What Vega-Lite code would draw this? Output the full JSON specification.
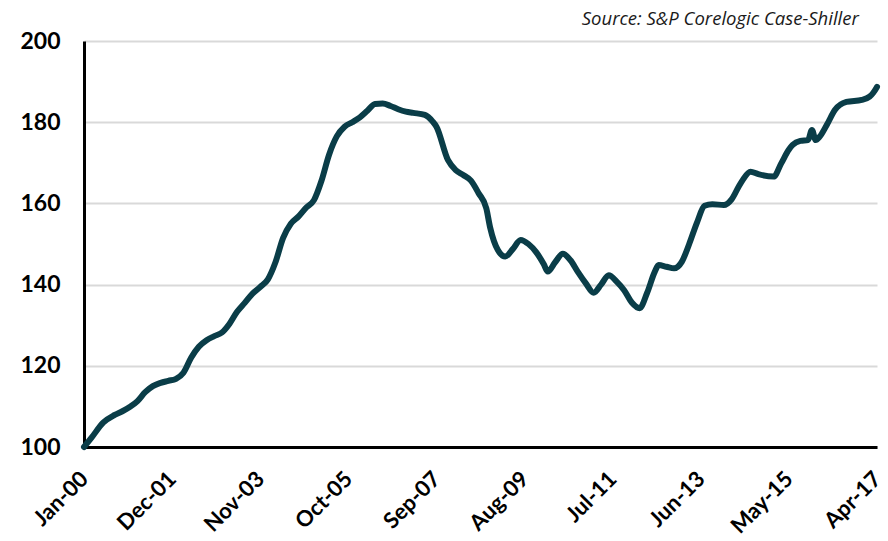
{
  "$schema": "https://vega.github.io/schema/vega-lite/v6.json",
  "width": 793,
  "height": 406,
  "autosize": "none",
  "padding": {"left": 84, "top": 41, "right": 11, "bottom": 94},
  "background": "white",
  "title": {
    "text": "Source:  S&P Corelogic Case-Shiller",
    "anchor": "end",
    "font": "Open Sans",
    "fontSize": 18.5,
    "fontStyle": "italic",
    "fontWeight": "normal",
    "color": "#1a1a1a",
    "dx": -26,
    "offset": 2
  },
  "data": {
    "values": [
      {"date": "2000-01-01", "index": 100.0},
      {"date": "2000-03-01", "index": 102.3},
      {"date": "2000-06-01", "index": 106.0},
      {"date": "2000-09-01", "index": 107.9},
      {"date": "2000-11-01", "index": 108.8},
      {"date": "2001-01-01", "index": 109.9},
      {"date": "2001-03-01", "index": 111.3},
      {"date": "2001-05-01", "index": 113.5},
      {"date": "2001-07-01", "index": 115.0},
      {"date": "2001-09-01", "index": 115.8},
      {"date": "2001-11-01", "index": 116.3},
      {"date": "2002-01-01", "index": 116.8},
      {"date": "2002-03-01", "index": 118.3},
      {"date": "2002-05-01", "index": 122.0},
      {"date": "2002-07-01", "index": 124.7},
      {"date": "2002-09-01", "index": 126.3},
      {"date": "2002-11-01", "index": 127.3},
      {"date": "2003-01-01", "index": 128.2},
      {"date": "2003-03-01", "index": 130.3},
      {"date": "2003-05-01", "index": 133.3},
      {"date": "2003-07-01", "index": 135.5},
      {"date": "2003-09-01", "index": 137.8},
      {"date": "2003-11-01", "index": 139.4},
      {"date": "2004-01-01", "index": 141.3},
      {"date": "2004-03-01", "index": 145.5},
      {"date": "2004-05-01", "index": 151.5},
      {"date": "2004-07-01", "index": 155.0},
      {"date": "2004-09-01", "index": 156.8},
      {"date": "2004-11-01", "index": 159.0},
      {"date": "2005-01-01", "index": 160.8},
      {"date": "2005-03-01", "index": 165.5},
      {"date": "2005-05-01", "index": 172.0},
      {"date": "2005-07-01", "index": 176.5},
      {"date": "2005-09-01", "index": 178.9},
      {"date": "2005-11-01", "index": 180.0},
      {"date": "2006-01-01", "index": 181.2},
      {"date": "2006-03-01", "index": 182.8},
      {"date": "2006-05-01", "index": 184.5},
      {"date": "2006-07-01", "index": 184.6},
      {"date": "2006-09-01", "index": 184.0},
      {"date": "2006-11-01", "index": 183.2},
      {"date": "2007-01-01", "index": 182.6},
      {"date": "2007-03-01", "index": 182.3},
      {"date": "2007-06-01", "index": 181.8},
      {"date": "2007-08-01", "index": 180.2},
      {"date": "2007-09-01", "index": 178.9},
      {"date": "2007-12-01", "index": 170.7},
      {"date": "2008-02-01", "index": 168.2},
      {"date": "2008-04-01", "index": 167.0},
      {"date": "2008-06-01", "index": 165.6},
      {"date": "2008-08-01", "index": 162.5},
      {"date": "2008-10-01", "index": 158.8},
      {"date": "2008-11-01", "index": 154.0},
      {"date": "2009-01-01", "index": 148.5},
      {"date": "2009-03-01", "index": 146.9},
      {"date": "2009-05-01", "index": 148.8},
      {"date": "2009-07-01", "index": 151.0},
      {"date": "2009-09-01", "index": 150.0},
      {"date": "2009-11-01", "index": 148.0},
      {"date": "2010-01-01", "index": 145.0},
      {"date": "2010-02-01", "index": 143.2},
      {"date": "2010-04-01", "index": 145.5},
      {"date": "2010-06-01", "index": 147.6},
      {"date": "2010-08-01", "index": 146.0},
      {"date": "2010-10-01", "index": 143.0},
      {"date": "2010-12-01", "index": 140.3},
      {"date": "2011-02-01", "index": 138.0},
      {"date": "2011-04-01", "index": 140.0},
      {"date": "2011-06-01", "index": 142.3},
      {"date": "2011-08-01", "index": 140.8},
      {"date": "2011-10-01", "index": 138.6},
      {"date": "2011-12-01", "index": 135.6},
      {"date": "2012-02-01", "index": 134.2},
      {"date": "2012-04-01", "index": 138.0},
      {"date": "2012-06-01", "index": 143.2},
      {"date": "2012-07-01", "index": 144.8},
      {"date": "2012-09-01", "index": 144.4},
      {"date": "2012-11-01", "index": 144.0},
      {"date": "2013-01-01", "index": 145.6},
      {"date": "2013-03-01", "index": 150.0},
      {"date": "2013-05-01", "index": 155.2},
      {"date": "2013-07-01", "index": 159.4},
      {"date": "2013-09-01", "index": 159.8},
      {"date": "2013-12-01", "index": 159.6},
      {"date": "2014-02-01", "index": 161.0},
      {"date": "2014-04-01", "index": 164.3},
      {"date": "2014-05-01", "index": 165.8},
      {"date": "2014-07-01", "index": 167.8},
      {"date": "2014-09-01", "index": 167.2},
      {"date": "2015-01-01", "index": 166.6},
      {"date": "2015-03-01", "index": 169.8},
      {"date": "2015-05-01", "index": 173.2},
      {"date": "2015-06-01", "index": 174.4},
      {"date": "2015-08-01", "index": 175.4},
      {"date": "2015-10-01", "index": 175.6},
      {"date": "2015-11-01", "index": 178.1},
      {"date": "2015-12-01", "index": 175.6},
      {"date": "2016-01-01", "index": 176.4},
      {"date": "2016-03-01", "index": 179.5},
      {"date": "2016-05-01", "index": 183.0},
      {"date": "2016-08-01", "index": 185.0},
      {"date": "2016-12-01", "index": 185.5},
      {"date": "2017-02-01", "index": 186.3},
      {"date": "2017-03-01", "index": 187.2},
      {"date": "2017-04-01", "index": 188.7}
    ]
  },
  "mark": {"type": "line", "color": "#0a3d48", "strokeWidth": 6, "interpolate": "monotone", "strokeCap": "round", "strokeJoin": "round", "clip": false},
  "encoding": {
    "x": {
      "field": "date",
      "type": "temporal",
      "scale": {
        "type": "utc",
        "domain": [
          {"year": 2000, "month": 1, "date": 1, "utc": true},
          {"year": 2017, "month": 4, "date": 1, "utc": true}
        ]
      },
      "axis": {
        "title": null,
        "format": "%b-%y",
        "values": [
          {"year": 2000, "month": 1, "date": 1, "utc": true},
          {"year": 2001, "month": 12, "date": 1, "utc": true},
          {"year": 2003, "month": 11, "date": 1, "utc": true},
          {"year": 2005, "month": 10, "date": 1, "utc": true},
          {"year": 2007, "month": 9, "date": 1, "utc": true},
          {"year": 2009, "month": 8, "date": 1, "utc": true},
          {"year": 2011, "month": 7, "date": 1, "utc": true},
          {"year": 2013, "month": 6, "date": 1, "utc": true},
          {"year": 2015, "month": 5, "date": 1, "utc": true},
          {"year": 2017, "month": 4, "date": 1, "utc": true}
        ],
        "labelAngle": -45,
        "labelAlign": "right",
        "labelBaseline": "middle",
        "labelPadding": 28,
        "labelOffset": 0,
        "labelFont": "Lato",
        "labelFontSize": 22,
        "labelFontWeight": "bold",
        "labelColor": "#000000",
        "labelOverlap": false,
        "labelFlush": false,
        "ticks": false,
        "grid": false,
        "domainColor": "#000000",
        "domainWidth": 3
      }
    },
    "y": {
      "field": "index",
      "type": "quantitative",
      "scale": {"domain": [100, 200], "nice": false, "zero": false},
      "axis": {
        "title": null,
        "values": [100, 120, 140, 160, 180, 200],
        "labelFont": "Lato",
        "labelFontSize": 23,
        "labelFontWeight": "bold",
        "labelColor": "#000000",
        "labelPadding": 24,
        "ticks": false,
        "grid": true,
        "gridColor": "#d9d9d9",
        "gridWidth": 2,
        "domainColor": "#000000",
        "domainWidth": 3
      }
    }
  },
  "config": {
    "view": {"stroke": null},
    "axis": {"labelFlush": false}
  }
}
